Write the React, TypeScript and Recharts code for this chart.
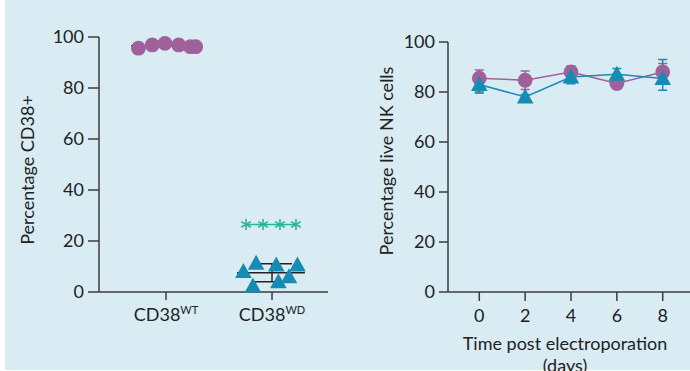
import { ComposedChart, LineChart, Scatter, Line, XAxis, YAxis, ErrorBar, Label } from "recharts";

// CD38 expression per donor (jittered x around group 1 and 2)
const groups = ["WT", "WD"];
const wtX = [0.74, 0.87, 0.99, 1.12, 1.23, 1.28];
const wtY = [95.6, 96.9, 97.5, 96.9, 96.2, 96.2];
const wdX = [1.73, 1.85, 1.82, 2.04, 2.06, 2.16, 2.24];
const wdY = [8.0, 11.3, 2.4, 10.6, 4.0, 6.0, 10.6];
const sigX = [1.755, 1.915, 2.075, 2.226];
const sigLevel = 26.5;

// viability over time, mean with [lower, upper] error
const days = [0, 2, 4, 6, 8];
const wtLive = [85.5, 84.7, 88.0, 83.4, 88.0];
const wtLiveErr = [[6.0, 3.3], [3.7, 3.7], [2.0, 2.0], [2.0, 2.0], [3.4, 3.4]];
const wdLive = [83.0, 78.0, 86.0, 87.1, 85.4];
const wdLiveErr = [[3.0, 2.0], [1.0, 1.0], [2.7, 4.4], [2.3, 2.3], [4.7, 7.6]];

const PURPLE = "#a0609a";
const BLUE = "#168cb5";
const TEAL = "#2bb596";
const AXIS = "#3c3c3c";
const FONT = "Lato, 'Open Sans', sans-serif";
const FS = 18;

const mean = (v: number[]) => v.reduce((a, b) => a + b, 0) / v.length;
const sd = (v: number[]) => {
  const m = mean(v);
  return Math.sqrt(v.reduce((a, b) => a + (b - m) * (b - m), 0) / (v.length - 1));
};

const wtPts = wtX.map((x, i) => ({ x, y: wtY[i] }));
const wdPts = wdX.map((x, i) => ({ x, y: wdY[i] }));
const sigPts = sigX.map((x) => ({ x, y: sigLevel }));
const wdMean = mean(wdY);
const wtMean = mean(wtY);
const meanLineWd = [{ x: 1.67, y: wdMean }, { x: 2.31, y: wdMean }];
const meanLineWt = [{ x: 0.67, y: wtMean }, { x: 1.33, y: wtMean }];
const sdPts = [{ x: 2, y: wdMean, err: sd(wdY) }];

const liveRows = days.map((d, i) => ({
  day: d,
  wt: wtLive[i],
  wtErr: wtLiveErr[i],
  wd: wdLive[i],
  wdErr: wdLiveErr[i],
}));

const tickStyle = { fontFamily: FONT, fontSize: FS, fill: "#222" };
const axisLine = { stroke: AXIS, strokeWidth: 1.5 };

const Dot = (p: any) => <circle cx={p.cx} cy={p.cy} r={7.4} fill={PURPLE} />;
const Tri = (p: any) => (
  <path d={`M${p.cx},${p.cy - 8.5} L${p.cx + 8.3},${p.cy + 6.5} L${p.cx - 8.3},${p.cy + 6.5} Z`} fill={BLUE} />
);
const Star = (p: any) => (
  <g stroke={TEAL} strokeWidth={1.6}>
    <line x1={p.cx} y1={p.cy - 5.5} x2={p.cx} y2={p.cy + 5.5} />
    <line x1={p.cx - 4.8} y1={p.cy - 2.8} x2={p.cx + 4.8} y2={p.cy + 2.8} />
    <line x1={p.cx - 4.8} y1={p.cy + 2.8} x2={p.cx + 4.8} y2={p.cy - 2.8} />
  </g>
);
const None = () => <g />;

function GroupTick({ x, y, payload }: any) {
  const sup = groups[payload.value - 1];
  return (
    <text x={x} y={y} dy={19} textAnchor="middle" fontFamily={FONT} fontSize={FS} fill="#222">
      CD38
      <tspan fontSize={11} dy={-7}>{sup}</tspan>
    </text>
  );
}

function VTitle({ x, y, text }: { x: number; y: number; text: string }) {
  return (
    <text x={x} y={y} transform={`rotate(-90 ${x} ${y})`} textAnchor="middle" dominantBaseline="central" fontFamily={FONT} fontSize={FS} fill="#222">
      {text}
    </text>
  );
}

export default function App() {
  return (
    <div style={{ position: "absolute", left: 0, top: 0, width: 690, height: 371, background: "#fff", overflow: "hidden" }}>
      <div style={{ position: "absolute", left: 5, top: 0, width: 685, height: 370, background: "#d9ecf3" }} />

      <div style={{ position: "absolute", left: 0, top: 0 }}>
        <ComposedChart width={330} height={371} margin={{ top: 37, right: 2, bottom: 0, left: 0 }}>
          <XAxis
            type="number"
            dataKey="x"
            domain={[0.368, 2.528]}
            allowDataOverflow
            ticks={[1, 2]}
            interval={0}
            height={79}
            tick={<GroupTick />}
            tickSize={8}
            tickMargin={2}
            axisLine={axisLine}
            tickLine={axisLine}
          />
          <YAxis
            type="number"
            dataKey="y"
            domain={[0, 100]}
            ticks={[0, 20, 40, 60, 80, 100]}
            width={99}
            tick={tickStyle}
            tickSize={11}
            tickMargin={4}
            axisLine={axisLine}
            tickLine={axisLine}
          >
            <Label content={() => <VTitle x={27} y={170} text="Percentage CD38+" />} />
          </YAxis>
          <Scatter data={meanLineWt} line={{ stroke: "#222", strokeWidth: 1.5 }} shape={None} isAnimationActive={false} />
          <Scatter data={meanLineWd} line={{ stroke: "#222", strokeWidth: 1.5 }} shape={None} isAnimationActive={false} />
          <Scatter data={sdPts} shape={None} isAnimationActive={false}>
            <ErrorBar dataKey="err" direction="y" width={20} stroke="#222" strokeWidth={1.5} />
          </Scatter>
          <Scatter data={wtPts} shape={Dot} isAnimationActive={false} />
          <Scatter data={wdPts} shape={Tri} isAnimationActive={false} />
          <Scatter data={sigPts} line={{ stroke: TEAL, strokeWidth: 1.6 }} shape={Star} isAnimationActive={false} />
        </ComposedChart>
      </div>

      <div style={{ position: "absolute", left: 360, top: 0 }}>
        <LineChart width={330} height={371} data={liveRows} margin={{ top: 42, right: 0, bottom: 0, left: 0 }}>
          <XAxis
            type="number"
            dataKey="day"
            domain={[-1.365, 9.19]}
            allowDataOverflow
            ticks={days}
            interval={0}
            height={79}
            tick={tickStyle}
            tickSize={9}
            tickMargin={8}
            axisLine={axisLine}
            tickLine={axisLine}
          >
            <Label
              content={() => (
                <text x={205} textAnchor="middle" fontFamily={FONT} fontSize={FS} fill="#222">
                  <tspan x={205} y={350}>Time post electroporation</tspan>
                  <tspan x={205} y={372}>(days)</tspan>
                </text>
              )}
            />
          </XAxis>
          <YAxis
            type="number"
            domain={[0, 100]}
            ticks={[0, 20, 40, 60, 80, 100]}
            width={88}
            tick={tickStyle}
            tickSize={9}
            tickMargin={4}
            axisLine={axisLine}
            tickLine={axisLine}
          >
            <Label content={() => <VTitle x={26} y={161} text="Percentage live NK cells" />} />
          </YAxis>
          <Line dataKey="wt" stroke={PURPLE} strokeWidth={1.5} dot={Dot} activeDot={false} isAnimationActive={false}>
            <ErrorBar dataKey="wtErr" direction="y" width={4.5} stroke={PURPLE} strokeWidth={1.5} />
          </Line>
          <Line dataKey="wd" stroke={BLUE} strokeWidth={1.5} dot={Tri} activeDot={false} isAnimationActive={false}>
            <ErrorBar dataKey="wdErr" direction="y" width={4.5} stroke={BLUE} strokeWidth={1.5} />
          </Line>
        </LineChart>
      </div>
    </div>
  );
}
